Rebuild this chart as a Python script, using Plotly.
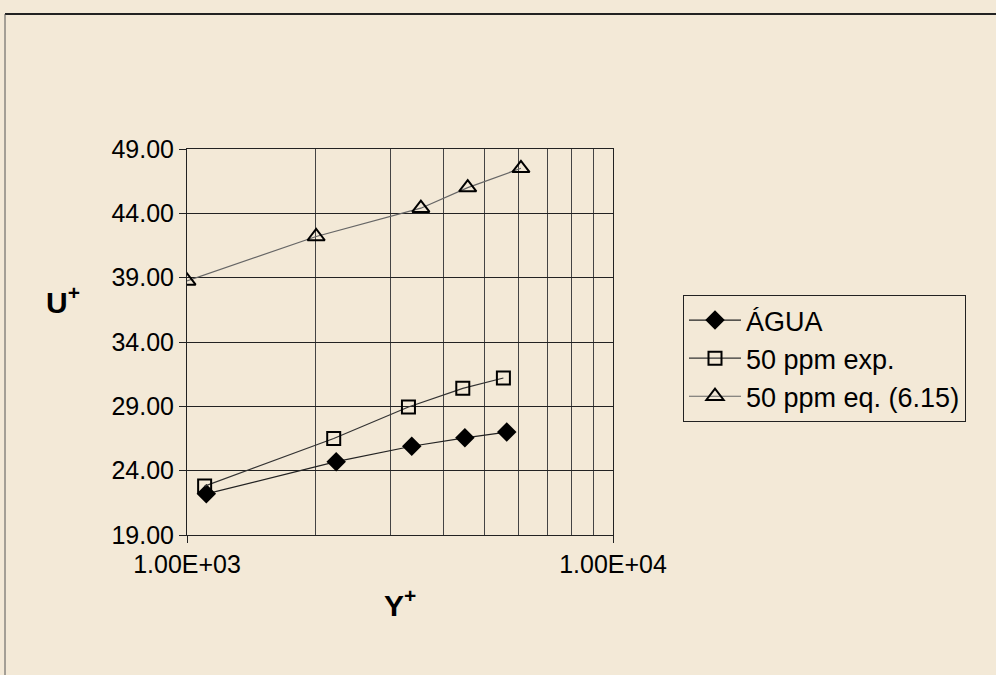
import plotly.graph_objects as go

# Data
y_plus_agua = [1110, 2240, 3370, 4490, 5630]
u_agua = [22.2, 24.7, 25.9, 26.55, 27.0]

y_plus_exp = [1100, 2210, 3310, 4440, 5530]
u_exp = [22.8, 26.5, 28.95, 30.4, 31.2]

y_plus_eq = [1000, 2010, 3540, 4560, 6080]
u_eq = [38.75, 42.2, 44.4, 46.0, 47.5]

x_tick_vals = [1000, 10000]
x_tick_text = ["1.00E+03", "1.00E+04"]
x_minor_vals = [2000, 3000, 4000, 5000, 6000, 7000, 8000, 9000]

BG = "#F3E9D7"
FONT = "Liberation Sans, Arial, sans-serif"

fig = go.Figure()
fig.add_trace(go.Scatter(
    x=y_plus_agua, y=u_agua, name="ÁGUA", mode="lines+markers",
    line=dict(color="#222222", width=1.2),
    marker=dict(symbol="diamond", size=15, color="black"),
))
fig.add_trace(go.Scatter(
    x=y_plus_exp, y=u_exp, name="50 ppm exp.", mode="lines+markers",
    line=dict(color="#333333", width=1.2),
    marker=dict(symbol="square-open", size=13, color="black", line=dict(width=2)),
))
fig.add_trace(go.Scatter(
    x=y_plus_eq, y=u_eq, name="50 ppm eq. (6.15)", mode="lines+markers",
    line=dict(color="#666666", width=1.2),
    marker=dict(symbol="triangle-up-open", size=15, color="black", line=dict(width=2)),
))

L, R, T, B = 187, 996 - 613, 149, 675 - 535
pw, ph = 996 - L - R, 675 - T - B

def px_to_paper_x(px):
    return (px - L) / pw

def px_to_paper_y(py):
    return (675 - B - py) / ph

fig.update_layout(
    width=996, height=675,
    margin=dict(l=L, r=R, t=T, b=B),
    paper_bgcolor=BG, plot_bgcolor=BG,
    font=dict(family=FONT, size=25, color="black"),
    showlegend=True,
    legend=dict(
        x=px_to_paper_x(683), y=px_to_paper_y(295),
        xanchor="left", yanchor="top",
        bgcolor=BG, bordercolor="#222222", borderwidth=1,
        font=dict(family=FONT, size=27, color="black"),
        itemwidth=52, tracegroupgap=0,
    ),
    xaxis=dict(
        type="log", range=[3, 4],
        tickvals=x_tick_vals, ticktext=x_tick_text,
        ticks="outside", ticklen=7, tickcolor="#222222",
        showgrid=True, gridcolor="#333333", gridwidth=1,
        showline=True, linecolor="#222222", linewidth=1, mirror=True,
        minor=dict(tickvals=x_minor_vals, showgrid=True,
                   gridcolor="#444444", gridwidth=1, ticks=""),
        zeroline=False,
        tickfont=dict(family=FONT, size=25, color="black"),
    ),
    yaxis=dict(
        range=[19, 49], tick0=19, dtick=5, tickformat=".2f",
        ticks="outside", ticklen=7, tickcolor="#222222",
        showgrid=True, gridcolor="#222222", gridwidth=1,
        showline=True, linecolor="#222222", linewidth=1, mirror=True,
        zeroline=False,
        tickfont=dict(family=FONT, size=25, color="black"),
    ),
    annotations=[
        dict(text="<b>U<sup>+</sup></b>", xref="paper", yref="paper",
             x=px_to_paper_x(63), y=px_to_paper_y(300),
             xanchor="center", yanchor="middle", showarrow=False,
             font=dict(family=FONT, size=30, color="black")),
        dict(text="<b>Y<sup>+</sup></b>", xref="paper", yref="paper",
             x=px_to_paper_x(400), y=px_to_paper_y(603),
             xanchor="center", yanchor="middle", showarrow=False,
             font=dict(family=FONT, size=30, color="black")),
    ],
    shapes=[
        dict(type="line", xref="paper", yref="paper",
             x0=px_to_paper_x(5), x1=px_to_paper_x(996),
             y0=px_to_paper_y(14), y1=px_to_paper_y(14),
             line=dict(color="#222222", width=2)),
        dict(type="line", xref="paper", yref="paper",
             x0=px_to_paper_x(5), x1=px_to_paper_x(5),
             y0=px_to_paper_y(14), y1=px_to_paper_y(675),
             line=dict(color="#555555", width=1)),
    ],
)

post = (
    "document.body.style.margin='0';"
    "document.body.style.padding='0';"
    "document.body.style.overflow='hidden';"
    "document.body.style.background='" + BG + "';"
)

fig.write_html("out.html", post_script=post,
               config={"displayModeBar": False})
